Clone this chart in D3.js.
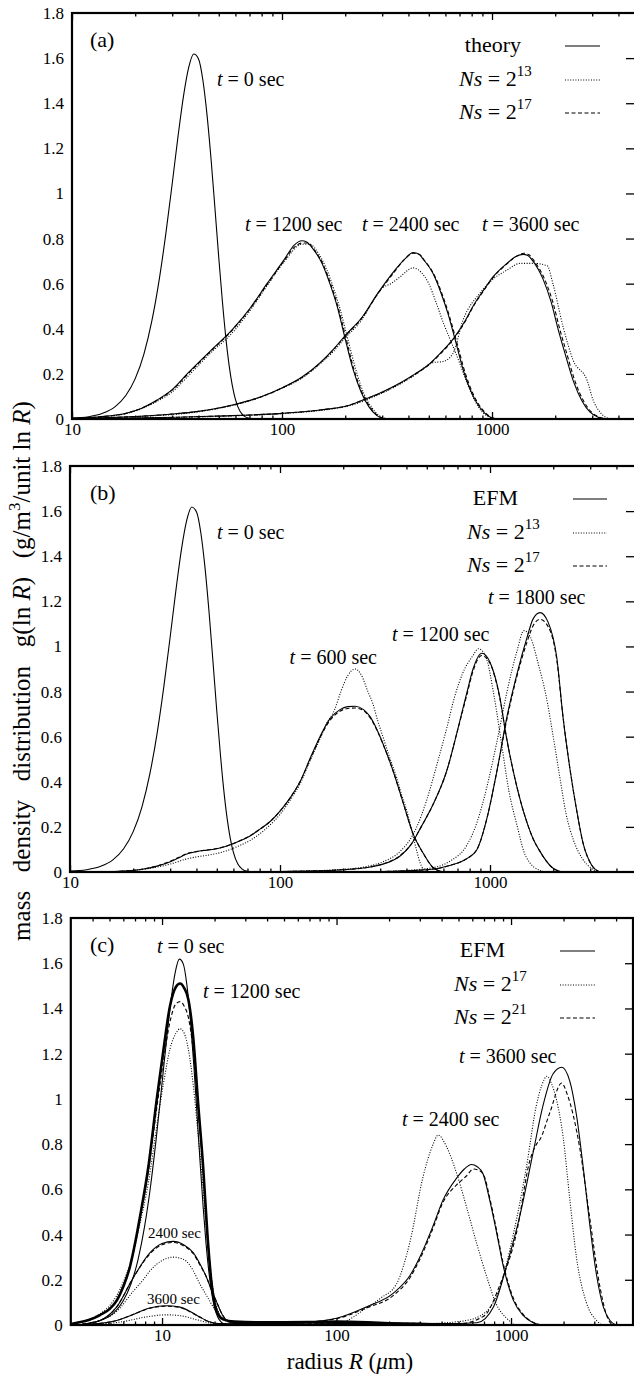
<!DOCTYPE html>
<html><head><meta charset="utf-8">
<script src="https://cdn.jsdelivr.net/npm/d3@7"></script>
<style>
body{margin:0;background:#fff}
svg{display:block}
</style></head><body>
<script>
// ---------- tick labels ----------
const Y_TICKS = [0,0.2,0.4,0.6,0.8,1,1.2,1.4,1.6,1.8];
const Y_TICK_LABELS = ["0","0.2","0.4","0.6","0.8","1","1.2","1.4","1.6","1.8"];
const X_MAJOR = [10,100,1000];
const X_MINOR_AB = [20,30,40,50,60,70,80,90,200,300,400,500,600,700,800,900,2000,3000,4000];
const X_MINOR_C = [4,5,6,7,8,9,20,30,40,50,60,70,80,90,200,300,400,500,600,700,800,900,2000,3000,4000];

// ---------- panel (a): theory (Golovin) vs Ns=2^13 (dotted), Ns=2^17 (dashed) ----------
const A_THEORY_0 = [[10,0.004],[12,0.010],[14,0.025],[16,0.054],[18,0.103],[20,0.179],[22,0.288],[24,0.435],[26,0.616],[28,0.824],[30,1.043],[32,1.255],[34,1.435],[36,1.561],[38,1.618],[40,1.597],[42,1.502],[44,1.344],[46,1.145],[48,0.928],[50,0.714],[52,0.523],[54,0.362],[56,0.238],[58,0.148],[60,0.087],[63,0.035],[66,0.013],[70,0.003],[75,0]];
const A_THEORY_1200 = [[10,0.003],[13.6,0.010],[18.3,0.027],[21.5,0.048],[25.4,0.084],[30,0.13],[35.7,0.204],[45.4,0.30],[58.4,0.40],[70.3,0.49],[84.8,0.60],[103,0.71],[114,0.77],[124.5,0.79],[131,0.785],[139,0.76],[155,0.69],[169,0.60],[183,0.50],[197,0.38],[218,0.22],[238,0.12],[259,0.055],[283,0.015],[309,0]];
const A_THEORY_2400 = [[10,0.002],[15,0.006],[20,0.011],[30,0.022],[40,0.034],[58,0.062],[80,0.10],[101,0.14],[124,0.185],[152,0.25],[176,0.31],[200,0.37],[240,0.45],[287,0.56],[345,0.66],[385,0.71],[421,0.738],[450,0.73],[469,0.71],[524,0.645],[571,0.56],[617,0.467],[666,0.355],[736,0.205],[803,0.112],[877,0.05],[957,0.014],[1045,0]];
const A_THEORY_3600 = [[10,0.001],[20,0.004],[50,0.013],[100,0.025],[152,0.04],[211,0.062],[243,0.084],[300,0.12],[365,0.16],[430,0.20],[490,0.235],[565,0.29],[659,0.36],[750,0.44],[812,0.50],[910,0.57],[1011,0.63],[1178,0.69],[1300,0.72],[1405,0.73],[1480,0.725],[1567,0.70],[1750,0.62],[1910,0.52],[2062,0.40],[2228,0.29],[2457,0.16],[2683,0.08],[2931,0.03],[3200,0.008],[3493,0]];
const A_N13_1200 = [[10,0.002],[13.6,0.009],[18.3,0.025],[25.4,0.078],[30,0.12],[35.7,0.19],[45.4,0.29],[58.4,0.385],[70.3,0.48],[84.8,0.59],[103,0.70],[124.5,0.775],[135,0.775],[150,0.73],[162,0.67],[176,0.58],[190,0.48],[205,0.36],[226,0.21],[246,0.11],[268,0.05],[290,0.015],[318,0]];
const A_N13_2400 = [[10,0.002],[20,0.01],[40,0.032],[58,0.06],[80,0.098],[101,0.138],[124,0.18],[152,0.245],[176,0.30],[200,0.36],[240,0.44],[270,0.52],[300,0.58],[330,0.60],[365,0.63],[421,0.67],[460,0.65],[500,0.60],[540,0.52],[590,0.42],[640,0.34],[700,0.25],[760,0.16],[830,0.08],[900,0.03],[980,0.008],[1060,0]];
const A_N13_3600 = [[10,0.001],[50,0.012],[100,0.024],[152,0.038],[211,0.06],[300,0.115],[365,0.155],[430,0.195],[524,0.25],[585,0.255],[651,0.29],[729,0.44],[880,0.56],[1011,0.62],[1178,0.66],[1360,0.69],[1567,0.69],[1830,0.68],[1950,0.60],[2178,0.41],[2436,0.26],[2840,0.17],[3030,0.084],[3270,0.03],[3650,0]];
const A_N17_1200 = [[10,0.003],[13.6,0.010],[18.3,0.026],[25.4,0.082],[30,0.128],[35.7,0.20],[45.4,0.297],[58.4,0.397],[70.3,0.487],[84.8,0.595],[103,0.705],[114,0.76],[124.5,0.78],[133,0.78],[141,0.755],[157,0.685],[171,0.595],[185,0.495],[199,0.38],[220,0.22],[240,0.12],[262,0.055],[286,0.015],[312,0]];
const A_N17_2400 = [[10,0.002],[15,0.006],[20,0.011],[30,0.022],[40,0.034],[58,0.061],[80,0.099],[101,0.139],[124,0.183],[152,0.248],[176,0.308],[200,0.367],[240,0.447],[287,0.557],[345,0.655],[385,0.71],[421,0.735],[455,0.727],[475,0.705],[530,0.64],[578,0.555],[625,0.46],[675,0.35],[745,0.205],[812,0.112],[887,0.05],[967,0.014],[1055,0]];
const A_N17_3600 = [[10,0.001],[20,0.004],[50,0.013],[100,0.025],[152,0.04],[211,0.062],[243,0.084],[300,0.118],[365,0.158],[430,0.198],[490,0.233],[565,0.287],[659,0.357],[750,0.437],[812,0.497],[910,0.567],[1011,0.627],[1178,0.688],[1300,0.72],[1420,0.735],[1500,0.728],[1590,0.70],[1780,0.62],[1945,0.52],[2100,0.40],[2270,0.29],[2500,0.16],[2730,0.08],[2980,0.03],[3250,0.008],[3550,0]];

// ---------- panel (b): EFM vs Ns=2^13 (dotted), Ns=2^17 (dashed) ----------
const B_EFM_0 = A_THEORY_0;
const B_EFM_600 = [[13.9,0],[18,0.004],[22,0.012],[26,0.026],[29,0.04],[33,0.063],[36,0.08],[40,0.09],[45,0.097],[50,0.103],[56,0.115],[64.5,0.138],[72,0.16],[80.3,0.19],[90,0.225],[100,0.27],[112,0.33],[124.5,0.40],[140,0.51],[155,0.60],[173,0.68],[193,0.72],[210,0.733],[228,0.735],[250,0.72],[268,0.69],[290,0.63],[309,0.57],[345,0.45],[385,0.31],[430,0.17],[480,0.084],[535,0.02],[597,0]];
const B_EFM_1200 = [[100,0.002],[150,0.005],[200,0.01],[260,0.02],[309,0.035],[372,0.07],[420,0.12],[470,0.2],[536,0.30],[623,0.45],[697,0.62],[778,0.80],[830,0.90],[914,0.97],[1000,0.93],[1111,0.78],[1196,0.60],[1333,0.39],[1487,0.23],[1600,0.15],[1715,0.097],[1976,0.02],[2205,0]];
const B_EFM_1800 = [[300,0.002],[500,0.01],[650,0.03],[777,0.06],[867,0.1],[968,0.24],[1080,0.45],[1205,0.69],[1345,0.88],[1501,1.04],[1600,1.12],[1730,1.15],[1886,1.11],[2080,0.95],[2225,0.69],[2400,0.46],[2590,0.27],[2770,0.13],[3050,0.03],[3330,0]];
const B_N13_600 = [[14,0],[20,0.007],[26,0.022],[30,0.035],[36,0.058],[40,0.067],[45,0.074],[50,0.082],[56,0.095],[64.5,0.118],[72,0.14],[80.3,0.17],[90,0.21],[100,0.255],[112,0.32],[124.5,0.39],[140,0.50],[155,0.59],[165,0.65],[182,0.72],[195,0.80],[210,0.87],[228,0.90],[245,0.87],[262,0.80],[276,0.75],[292,0.67],[309,0.60],[335,0.50],[359,0.42],[380,0.34],[402,0.27],[420,0.20],[438,0.13],[465,0.04],[500,0]];
const B_N13_1200 = [[100,0.002],[200,0.012],[260,0.025],[309,0.045],[372,0.09],[420,0.15],[448,0.2],[500,0.32],[560,0.48],[623,0.64],[680,0.78],[740,0.88],[830,0.96],[880,0.99],[950,0.96],[1050,0.77],[1130,0.58],[1230,0.36],[1350,0.2],[1450,0.09],[1550,0.04],[1700,0.01],[1850,0]];
const B_N13_1800 = [[300,0.002],[500,0.015],[650,0.05],[777,0.12],[867,0.22],[968,0.38],[1080,0.58],[1205,0.80],[1345,0.98],[1450,1.07],[1560,1.04],[1700,0.92],[1850,0.78],[2000,0.60],[2150,0.42],[2300,0.26],[2500,0.14],[2750,0.06],[3050,0.015],[3300,0]];
const B_N17_600 = [[13.9,0],[18,0.004],[22,0.012],[26,0.027],[29,0.042],[33,0.065],[36,0.082],[40,0.091],[45,0.098],[50,0.104],[56,0.116],[64.5,0.139],[72,0.161],[80.3,0.19],[90,0.225],[100,0.27],[112,0.33],[124.5,0.40],[140,0.505],[155,0.595],[173,0.672],[193,0.713],[210,0.725],[228,0.727],[250,0.715],[268,0.685],[290,0.628],[309,0.568],[345,0.45],[385,0.31],[430,0.17],[480,0.084],[535,0.02],[597,0]];
const B_N17_1200 = [[100,0.002],[150,0.005],[200,0.01],[260,0.02],[309,0.036],[372,0.072],[420,0.122],[470,0.2],[536,0.30],[623,0.45],[697,0.62],[778,0.79],[830,0.89],[914,0.96],[1000,0.925],[1111,0.775],[1196,0.60],[1333,0.39],[1487,0.23],[1600,0.15],[1715,0.097],[1976,0.02],[2205,0]];
const B_N17_1800 = [[300,0.002],[500,0.01],[650,0.03],[777,0.06],[867,0.1],[968,0.24],[1080,0.45],[1205,0.68],[1345,0.87],[1501,1.02],[1600,1.09],[1730,1.12],[1886,1.09],[2080,0.94],[2225,0.69],[2400,0.46],[2590,0.27],[2770,0.13],[3050,0.03],[3330,0]];

// ---------- panel (c): EFM vs Ns=2^17 (dotted), Ns=2^21 (dashed) ----------
const C_EFM_0 = [[3.0,0],[3.5,0.002],[3.97,0.010],[4.63,0.025],[5.29,0.054],[5.95,0.103],[6.62,0.179],[7.28,0.288],[7.94,0.435],[8.60,0.616],[9.26,0.824],[9.92,1.043],[10.59,1.255],[11.25,1.435],[11.91,1.561],[12.57,1.618],[13.23,1.597],[13.89,1.502],[14.56,1.344],[15.22,1.145],[15.88,0.928],[16.54,0.714],[17.20,0.523],[17.86,0.362],[18.53,0.238],[19.19,0.148],[19.85,0.087],[20.84,0.035],[21.83,0.013],[23.16,0.003],[25,0]];
const C_EFM_1200 = [[3.0,0.004],[3.25,0.01],[3.8,0.022],[4.41,0.044],[5.0,0.07],[5.52,0.11],[6.0,0.17],[6.56,0.26],[7.0,0.36],[7.48,0.48],[8.35,0.70],[9.33,1.0],[10.2,1.22],[11.1,1.41],[12.0,1.495],[12.68,1.51],[13.4,1.49],[14.15,1.44],[15.1,1.27],[16.1,0.98],[17.2,0.70],[18.2,0.40],[19.25,0.18],[20.6,0.06],[22.4,0.025],[26,0.015],[35,0.012],[50,0.012],[70,0.013],[100,0.015],[150,0.012],[200,0.008],[300,0.004],[500,0]];
const C_EFM_2400 = [[3.5,0.004],[4.41,0.02],[5.5,0.08],[6.85,0.21],[8.54,0.32],[10,0.36],[11.6,0.37],[13.3,0.355],[15.1,0.32],[16.5,0.27],[18,0.21],[19.3,0.15],[20.6,0.10],[22,0.05],[23.5,0.02],[26,0.008],[30,0.005],[40,0.005],[62,0.01],[100,0.03],[148,0.08],[211,0.14],[264,0.22],[300,0.30],[358,0.44],[406,0.55],[488,0.65],[540,0.69],[593,0.71],[640,0.70],[690,0.67],[756,0.55],[826,0.41],[903,0.26],[1030,0.11],[1180,0.04],[1340,0.01],[1500,0]];
const C_EFM_3600 = [[4,0.004],[5.5,0.02],[7,0.05],[8.5,0.075],[10.6,0.085],[12.5,0.08],[14.5,0.06],[16.5,0.035],[18.5,0.015],[21,0.006],[30,0.004],[60,0.004],[100,0.006],[200,0.008],[400,0.006],[636,0.01],[793,0.08],[942,0.26],[1121,0.48],[1336,0.76],[1524,0.97],[1739,1.11],[1950,1.14],[2169,1.08],[2370,0.93],[2590,0.70],[2830,0.44],[3092,0.22],[3380,0.08],[3690,0.02],[4000,0]];
const C_N17_1200 = [[3.0,0.006],[3.5,0.015],[4.41,0.05],[5.0,0.085],[5.5,0.13],[6.0,0.19],[6.56,0.27],[7.48,0.45],[8.35,0.63],[9.33,0.88],[10.2,1.07],[11.1,1.22],[12.0,1.29],[12.68,1.31],[13.4,1.29],[14.15,1.22],[15.1,1.06],[16.1,0.84],[17.2,0.60],[18.2,0.37],[19.25,0.20],[20.6,0.08],[22.4,0.03],[26,0.015],[40,0.012],[70,0.013],[100,0.015],[150,0.012],[250,0.006],[500,0]];
const C_N17_2400 = [[3.5,0.005],[4.41,0.02],[5.5,0.06],[6.85,0.15],[7.8,0.20],[8.54,0.24],[10,0.285],[11.6,0.30],[13.3,0.29],[15.1,0.24],[16.5,0.18],[18,0.13],[20,0.07],[22,0.03],[25,0.01],[30,0.005],[60,0.005],[104,0.01],[148,0.075],[180,0.12],[220,0.18],[264,0.37],[312,0.65],[358,0.80],[382,0.84],[426,0.79],[488,0.67],[557,0.52],[636,0.36],[728,0.21],[826,0.09],[942,0.03],[1050,0]];
const C_N17_3600 = [[4,0.002],[6,0.015],[8,0.035],[10.6,0.045],[13,0.04],[16,0.022],[19,0.008],[22,0.003],[40,0.002],[100,0.003],[300,0.005],[500,0.015],[665,0.04],[866,0.17],[1030,0.40],[1226,0.70],[1396,0.97],[1500,1.06],[1608,1.10],[1700,1.07],[1830,0.99],[1990,0.83],[2169,0.56],[2370,0.30],[2700,0.10],[3090,0.02],[3300,0]];
const C_N21_1200 = [[3.0,0.005],[3.25,0.011],[3.8,0.024],[4.41,0.046],[5.0,0.073],[5.52,0.113],[6.0,0.172],[6.56,0.26],[7.0,0.355],[7.48,0.47],[8.35,0.68],[9.33,0.96],[10.2,1.17],[11.1,1.34],[12.0,1.42],[12.68,1.43],[13.4,1.41],[14.15,1.36],[15.1,1.21],[16.1,0.95],[17.2,0.69],[18.2,0.41],[19.25,0.19],[20.6,0.065],[22.4,0.027],[26,0.015],[35,0.012],[50,0.012],[70,0.013],[100,0.015],[150,0.012],[200,0.008],[300,0.004],[500,0]];
const C_N21_2400 = [[3.5,0.004],[4.41,0.02],[5.5,0.08],[6.85,0.21],[8.54,0.315],[10,0.355],[11.6,0.365],[13.3,0.35],[15.1,0.315],[16.5,0.265],[18,0.21],[19.3,0.15],[20.6,0.10],[22,0.05],[23.5,0.02],[26,0.008],[30,0.005],[40,0.005],[62,0.01],[100,0.028],[148,0.075],[211,0.13],[264,0.21],[300,0.29],[358,0.43],[406,0.54],[488,0.62],[557,0.66],[608,0.69],[650,0.685],[700,0.66],[756,0.56],[826,0.42],[903,0.27],[1030,0.12],[1180,0.045],[1340,0.012],[1500,0]];
const C_N21_3600 = [[4,0.004],[5.5,0.02],[7,0.05],[8.5,0.074],[10.6,0.083],[12.5,0.078],[14.5,0.058],[16.5,0.034],[18.5,0.015],[21,0.006],[30,0.004],[60,0.004],[100,0.006],[200,0.008],[400,0.006],[500,0.005],[700,0.04],[866,0.18],[1070,0.40],[1285,0.73],[1400,0.80],[1464,0.82],[1670,0.94],[1950,1.07],[2100,1.02],[2480,0.78],[2830,0.47],[3230,0.17],[3540,0.04],[3800,0]];

// ---------- layout ----------
const FONT = '"Liberation Serif", "Times New Roman", Times, serif';
const W = 634, H = 1375;
const svg = d3.select('body').append('svg').attr('width', W).attr('height', H)
  .attr('font-family', FONT);

const STY = {
  solid: {w: 1.1, dash: null},
  thick: {w: 2.6, dash: null},
  dot:   {w: 1.1, dash: '1,1.6'},
  dash:  {w: 1.1, dash: '4,2.5'}
};

const PANELS = [
  {id:'a', xdom:[10,5000], left:72, right:638.8, top:13, bottom:419, minor:X_MINOR_AB,
   series:[[A_THEORY_0,'solid'],[A_THEORY_1200,'solid'],[A_THEORY_2400,'solid'],[A_THEORY_3600,'solid'],
           [A_N13_1200,'dot'],[A_N13_2400,'dot'],[A_N13_3600,'dot'],
           [A_N17_1200,'dash'],[A_N17_2400,'dash'],[A_N17_3600,'dash']],
   tag:'(a)', legend:['theory',['13'],['17']], legX:[521,459,565,600],
   labels:[['t','= 0 sec',217,86],['t','= 1200 sec',245,231],['t','= 2400 sec',362,231],['t','= 3600 sec',482,231]]},
  {id:'b', xdom:[10,5000], left:70, right:636.8, top:466, bottom:872, minor:X_MINOR_AB,
   series:[[B_EFM_0,'solid'],[B_EFM_600,'solid'],[B_EFM_1200,'solid'],[B_EFM_1800,'solid'],
           [B_N13_600,'dot'],[B_N13_1200,'dot'],[B_N13_1800,'dot'],
           [B_N17_600,'dash'],[B_N17_1200,'dash'],[B_N17_1800,'dash']],
   tag:'(b)', legend:['EFM',['13'],['17']], legX:[518,467,573,607],
   labels:[['t','= 0 sec',217,539],['t','= 600 sec',null,664,377],['t','= 1200 sec',392,641],['t','= 1800 sec',488,604]]},
  {id:'c', xdom:[3,5000], left:70.8, right:633, top:918, bottom:1325, minor:X_MINOR_C,
   series:[[C_EFM_0,'solid'],[C_EFM_1200,'thick'],[C_EFM_2400,'solid'],[C_EFM_3600,'solid'],
           [C_N17_1200,'dot'],[C_N17_2400,'dot'],[C_N17_3600,'dot'],
           [C_N21_1200,'dash'],[C_N21_2400,'dash'],[C_N21_3600,'dash']],
   tag:'(c)', legend:['EFM',['17'],['21']], legX:[505,454,560,595],
   labels:[['t','= 0 sec',157,953],['t','= 1200 sec',203,998],['t','= 3600 sec',459,1063],['t','= 2400 sec',402,1126],
           [null,'2400 sec',148,1238,null,15],[null,'3600 sec',147,1304,null,15]]}
];

PANELS.forEach(p => {
  const x = d3.scaleLog().domain(p.xdom).range([p.left, p.right]);
  const y = d3.scaleLinear().domain([0,1.8]).range([p.bottom, p.top]);
  const g = svg.append('g');
  svg.append('clipPath').attr('id','clip-'+p.id).append('rect')
    .attr('x',p.left).attr('y',p.top).attr('width',p.right-p.left).attr('height',p.bottom-p.top);
  const line = d3.line().x(d=>x(d[0])).y(d=>y(d[1])).curve(d3.curveMonotoneX);
  const plot = g.append('g').attr('clip-path','url(#clip-'+p.id+')');
  p.series.forEach(([data, st]) => {
    const s = STY[st];
    plot.append('path').attr('d', line(data)).attr('fill','none').attr('stroke','#000')
      .attr('stroke-width', s.w).attr('stroke-dasharray', s.dash).attr('stroke-linejoin','round');
  });
  const ax = (gen, tr) => { const a = g.append('g').attr('transform', tr).call(gen);
    a.attr('font-family', FONT);
    a.select('.domain').remove(); a.selectAll('line').attr('stroke','#000').attr('stroke-width',1.3); return a; };
  const bMaj = ax(d3.axisBottom(x).tickValues(X_MAJOR).tickSize(-7).tickPadding(4).tickFormat(d=>String(d)), `translate(0,${p.bottom})`);
  bMaj.selectAll('text').attr('font-size',17);
  ax(d3.axisBottom(x).tickValues(p.minor).tickSize(-3.5).tickFormat(''), `translate(0,${p.bottom})`);
  ax(d3.axisTop(x).tickValues(X_MAJOR).tickSize(-7).tickFormat(''), `translate(0,${p.top})`);
  ax(d3.axisTop(x).tickValues(p.minor).tickSize(-3.5).tickFormat(''), `translate(0,${p.top})`);
  ax(d3.axisRight(y).tickValues(Y_TICKS.slice(1,-1)).tickSize(-(8 + Math.max(0, p.right - 634))).tickFormat(''), `translate(${p.right},0)`);
  const yl = ax(d3.axisLeft(y).tickValues(Y_TICKS).tickSize(0).tickPadding(8).tickFormat((d,i)=>Y_TICK_LABELS[i]), `translate(${p.left},0)`);
  yl.selectAll('text').attr('font-size',17);
  g.append('rect').attr('x',p.left).attr('y',p.top).attr('width',p.right-p.left).attr('height',p.bottom-p.top)
    .attr('fill','none').attr('stroke','#000').attr('stroke-width',2.2);
  g.append('text').attr('x',90).attr('y',p.top+34).attr('font-size',22).text(p.tag);
  const [lx0, nx, l1, l2] = p.legX;
  const rows = [p.top+39, p.top+73, p.top+106];
  g.append('text').attr('x',lx0).attr('y',rows[0]).attr('text-anchor','end').attr('font-size',22).text(p.legend[0]);
  [1,2].forEach(i => {
    const t = g.append('text').attr('x',nx).attr('y',rows[i]).attr('font-size',22);
    t.append('tspan').attr('font-style','italic').text('N');
    t.append('tspan').attr('font-style','italic').text('s');
    t.append('tspan').text(' = 2');
    t.append('tspan').attr('font-size',15).attr('dy',-10).text(p.legend[i][0]);
  });
  ['solid','dot','dash'].forEach((st,i) => {
    const s = STY[st];
    g.append('line').attr('x1',l1).attr('x2',l2).attr('y1',rows[i]-6).attr('y2',rows[i]-6)
      .attr('stroke','#000').attr('stroke-width',s.w).attr('stroke-dasharray',s.dash);
  });
  p.labels.forEach(L => {
    const [it, rest, lx, ly, ex, fs] = L;
    const t = g.append('text').attr('y',ly).attr('font-size',fs||20).style('white-space','pre');
    if (lx !== null) t.attr('x',lx); else t.attr('x',ex).attr('text-anchor','end');
    if (it) { t.append('tspan').attr('font-style','italic').text(it); t.append('tspan').text(' ' + rest); }
    else t.text(rest);
  });
});

const xt = svg.append('text').attr('x',350).attr('y',1369).attr('text-anchor','middle').attr('font-size',23).style('white-space','pre');
xt.append('tspan').text('radius ');
xt.append('tspan').attr('font-style','italic').text('R');
xt.append('tspan').text(' (');
xt.append('tspan').attr('font-style','italic').text('μ');
xt.append('tspan').text('m)');

const yt = svg.append('text').attr('transform','translate(30,671) rotate(-90)').attr('text-anchor','middle').attr('font-size',25).style('white-space','pre');
yt.append('tspan').text('mass   density   distribution   g(ln ');
yt.append('tspan').attr('font-style','italic').text('R');
yt.append('tspan').text(')   (g/m');
yt.append('tspan').attr('font-size',17).attr('dy',-10).text('3');
yt.append('tspan').attr('dy',10).text('/unit ln ');
yt.append('tspan').attr('font-style','italic').text('R');
yt.append('tspan').text(')');

svg.selectAll('text').attr('font-family', FONT).attr('fill','#000');
</script></body></html>
